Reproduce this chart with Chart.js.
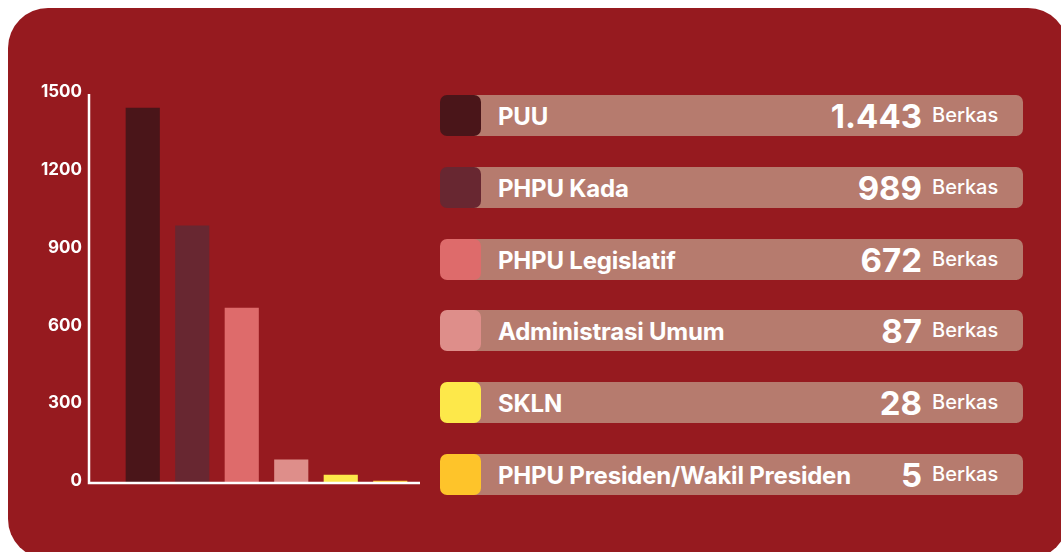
<!DOCTYPE html>
<html>
<head>
<meta charset="utf-8">
<script src="https://cdn.jsdelivr.net/npm/chart.js@4/dist/chart.umd.min.js"></script>
<style>
  body { margin: 0; background: #fff; font-family: Inter, "Noto Sans", sans-serif; }
  .card {
    position: absolute; left: 8px; top: 8px; width: 1060px; height: 551px;
    background: #961a1f; border-radius: 40px;
  }
  .chart-box { position: absolute; left: 0; top: 0; width: 440px; height: 552px; }
  .row { position: absolute; left: 440px; width: 583px; height: 41px; }
  .row .pill {
    position: absolute; left: 14px; right: 0; top: 0; bottom: 0;
    background: #b67b6e; border-radius: 7px;
  }
  .row .swatch { position: absolute; left: 0; top: 0; width: 41px; height: 41px; border-radius: 7px; }
  .row .name {
    position: absolute; left: 58px; top: 1px; line-height: 41px;
    color: #fff; font-weight: 700; font-size: 24px; letter-spacing: -0.2px;
  }
  .row .num {
    position: absolute; right: 101px; top: 1px; line-height: 41px;
    color: #fff; font-weight: 700; font-size: 33px;
  }
  .row .unit {
    position: absolute; left: 492px; top: 0; line-height: 41px;
    color: #fff; font-weight: 500; font-size: 20px;
  }
</style>
</head>
<body>
<div class="card"></div>
<div class="chart-box"><canvas id="myChart"></canvas></div>
<div id="rows"></div>
<script>
const categories = ['PUU', 'PHPU Kada', 'PHPU Legislatif', 'Administrasi Umum', 'SKLN', 'PHPU Presiden/Wakil Presiden']
const cases = [1443, 989, 672, 87, 28, 5]
const colors = ['#4a1519', '#682731', '#de6b6b', '#de8e8a', '#fde84a', '#fec42a']
const yTicks = [0, 300, 600, 900, 1200, 1500]
const unitLabel = 'Berkas'

// thousands separator with a dot, e.g. 1.443
const fmt = (n) => String(n).replace(/\B(?=(\d{3})+(?!\d))/g, '.')

// list of categories on the right
const rowsBox = document.querySelector('#rows')
categories.forEach((name, i) => {
    let row = document.createElement('div')
    row.classList.add('row')
    row.style.top = (95 + i * 71.8) + 'px'
    row.innerHTML = `<div class="pill"></div>
        <div class="swatch" style="background:${colors[i]}"></div>
        <div class="name">${name}</div>
        <div class="num">${fmt(cases[i])}</div>
        <div class="unit">${unitLabel}</div>`
    rowsBox.appendChild(row)
})

// white L-shaped axis, a bit wider than the bar area
const axisLines = {
    id: 'axisLines',
    afterDraw(chart) {
        const { ctx, chartArea } = chart
        const x0 = chartArea.left - 29
        const yb = chartArea.bottom + 1
        ctx.save()
        ctx.strokeStyle = '#ffffff'
        ctx.lineWidth = 2.5
        ctx.beginPath()
        ctx.moveTo(x0, chartArea.top + 1)
        ctx.lineTo(x0, yb)
        ctx.lineTo(chartArea.right + 5, yb)
        ctx.stroke()
        ctx.restore()
    }
}

new Chart(document.getElementById('myChart'), {
    type: 'bar',
    data: {
        labels: categories,
        datasets: [{
            data: cases,
            backgroundColor: colors,
            borderWidth: 0,
            barPercentage: 0.69,
            categoryPercentage: 1
        }]
    },
    options: {
        responsive: true,
        maintainAspectRatio: false,
        animation: false,
        layout: { padding: { left: 0, right: 25, top: 93, bottom: 70 } },
        plugins: { legend: { display: false }, tooltip: { enabled: false } },
        scales: {
            x: { display: false },
            y: {
                min: 0,
                max: 1500,
                afterFit: (s) => { s.width = 118 },
                afterBuildTicks: (s) => { s.ticks = yTicks.map(v => ({ value: v })) },
                border: { display: false },
                grid: { display: false, drawTicks: false },
                ticks: {
                    padding: 36,
                    labelOffset: -1,
                    color: '#ffffff',
                    font: { family: 'Inter', weight: 'bold', size: 17 },
                    callback: (v) => String(v)
                }
            }
        }
    },
    plugins: [axisLines]
})
</script>
</body>
</html>
